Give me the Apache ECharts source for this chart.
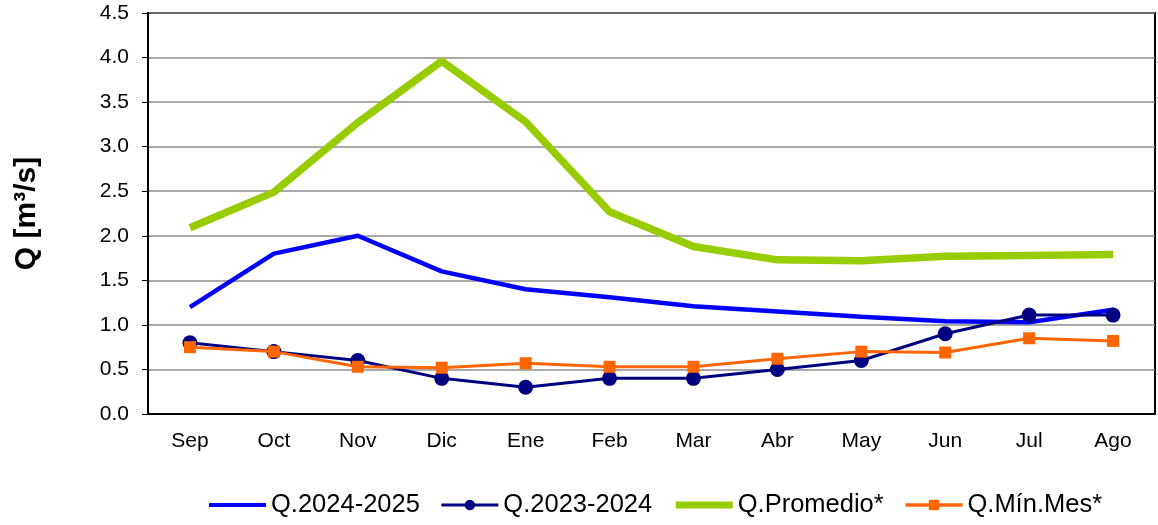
<!DOCTYPE html>
<html><head><meta charset="utf-8">
<script src="https://cdn.jsdelivr.net/npm/echarts@6/dist/echarts.min.js"></script>
<style>html,body{margin:0;padding:0;background:#fff}#c{width:1158px;height:525px}</style>
</head><body><div id="c"></div>
<script>
const categories = ['Sep','Oct','Nov','Dic','Ene','Feb','Mar','Abr','May','Jun','Jul','Ago'];
const q20242025 = [1.20,1.80,2.00,1.60,1.40,1.31,1.21,1.15,1.09,1.04,1.03,1.17];
const q20232024 = [0.80,0.70,0.60,0.40,0.30,0.40,0.40,0.50,0.60,0.90,1.11,1.11];
const qPromedio = [2.09,2.49,3.27,3.96,3.28,2.27,1.88,1.73,1.72,1.77,1.78,1.79];
const qMinMes = [0.75,0.70,0.53,0.52,0.57,0.53,0.53,0.62,0.70,0.69,0.85,0.82];
const yTicks = [0,0.5,1,1.5,2,2.5,3,3.5,4,4.5];

const chart = echarts.init(document.getElementById('c'));
const font = 'Liberation Sans, Arial, sans-serif';
chart.setOption({
  animation:false,
  grid:{left:148,right:3,top:13,bottom:111,show:true,borderColor:'#000',borderWidth:2},
  legend:{
    top:487,left:202,itemWidth:57,itemHeight:13,itemGap:20,
    textStyle:{fontSize:25.5,fontFamily:font,color:'#000'},
    data:[
      {name:'Q.2024-2025',itemStyle:{opacity:0},lineStyle:{width:4}},
      {name:'Q.2023-2024',lineStyle:{width:3}},
      {name:'Q.Promedio*',itemStyle:{opacity:0},lineStyle:{width:7}},
      {name:'Q.Mín.Mes*',lineStyle:{width:3.5}}
    ]
  },
  xAxis:{
    type:'category',data:categories,boundaryGap:true,
    axisLine:{lineStyle:{color:'#000',width:2}},
    axisTick:{inside:true,length:6,lineStyle:{color:'#000',width:1.5}},
    axisLabel:{fontSize:21,fontFamily:font,color:'#000',margin:17}
  },
  yAxis:{
    type:'value',min:0,max:4.5,interval:0.5,
    name:'Q [m\u00b3/s]',nameLocation:'middle',nameGap:106,
    nameTextStyle:{fontSize:30,fontWeight:'bold',fontFamily:font,color:'#000'},
    axisLine:{show:true,lineStyle:{color:'#000',width:2}},
    axisTick:{show:true,length:6,lineStyle:{color:'#000'}},
    axisLabel:{fontSize:21,fontFamily:font,color:'#000',margin:19,
      formatter:v=>yTicks.includes(v)?v.toFixed(1):''},
    splitLine:{lineStyle:{color:'#8c8c8c',width:1.5}}
  },
  series:[
    {name:'Q.2024-2025',type:'line',data:q20242025,symbol:'none',
      lineStyle:{color:'#0000ff',width:4.5},itemStyle:{color:'#0000ff'},z:3},
    {name:'Q.2023-2024',type:'line',data:q20232024,symbol:'circle',symbolSize:15,
      lineStyle:{color:'#000080',width:3},itemStyle:{color:'#000080'},z:4},
    {name:'Q.Promedio*',type:'line',data:qPromedio,symbol:'none',
      lineStyle:{color:'#99cc00',width:7.5},itemStyle:{color:'#99cc00'},z:2},
    {name:'Q.Mín.Mes*',type:'line',data:qMinMes,symbol:'rect',symbolSize:12,
      lineStyle:{color:'#ff6600',width:3},itemStyle:{color:'#ff6600'},z:5}
  ]
});
</script></body></html>
